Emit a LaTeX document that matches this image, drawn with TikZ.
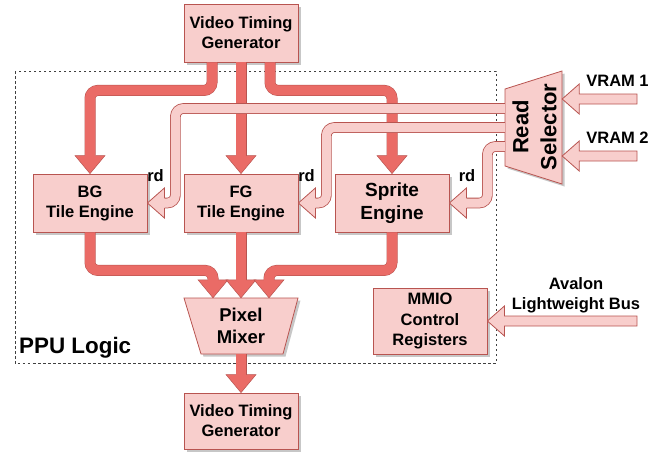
\documentclass[tikz,border=0pt]{standalone}
\usepackage{fontspec}
\setmainfont{Liberation Sans}
\usetikzlibrary{calc,shadows}

\definecolor{pinkfill}{HTML}{F8CECC}
\definecolor{redline}{HTML}{B85450}
\definecolor{darkred}{HTML}{EA6B66}

\newcommand\setfs[2]{\fontsize{#1}{#2}\selectfont\bfseries}

% down-pointing head of a thick data arrow, tip at #1
\newcommand\darkhead[1]{%
  \fill[darkred] (#1) -- ++(-15,-18) -- ++(30,0) -- cycle;
  \fill[darkred] ($(#1)+(-5,-18.6)$) rectangle ($(#1)+(5,-17)$);
  \draw[redline, line width=0.5pt, line join=miter]
    ($(#1)+(-5.25,-18)$) -- ++(-9.75,0) -- (#1) -- ++(15,-18) -- ++(-9.75,0);}

% left-pointing head of an outlined read arrow, tip at #1
\newcommand\pinkhead[1]{%
  \fill[pinkfill] (#1) -- ++(17,-15) -- ++(0,30) -- cycle;
  \fill[pinkfill] ($(#1)+(16.4,-4.5)$) rectangle ($(#1)+(18,4.5)$);
  \draw[redline, line width=0.8pt, line join=miter]
    ($(#1)+(17,-4.9)$) -- ++(0,-10.1) -- (#1) -- ++(17,15) -- ++(0,-10.1);}

% straight outlined arrow from tail #2 to tip #1 (pointing left)
\newcommand\pinkstraight[2]{%
  \draw[pinkbody] (#1) -- ($(#1)+(17,-15)$) -- ($(#1)+(17,-5)$)
    -- ($(#2)+(0,-5)$) -- ($(#2)+(0,5)$) -- ($(#1)+(17,5)$)
    -- ($(#1)+(17,15)$) -- cycle;}

\tikzset{
  boxshadow/.style={drop shadow={shadow xshift=2.5pt, shadow yshift=-2.5pt,
      fill=black, opacity=0.22}},
  block/.style={draw=redline, fill=pinkfill, line width=0.8pt, inner sep=0pt,
      align=center, minimum width=114pt, minimum height=58pt, boxshadow,
      font=\setfs{16.5}{20}},
  shapebody/.style={draw=redline, fill=pinkfill, line width=0.8pt,
      line join=miter, boxshadow},
  holder/.style={inner sep=0pt, align=center},
  darkshaft/.style={draw=redline, line width=0.5pt, double=darkred,
      double distance=10pt, rounded corners=8pt},
  pinkshaft/.style={draw=redline, line width=0.8pt, double=pinkfill,
      double distance=9pt, rounded corners=8pt},
  pinkbody/.style={draw=redline, fill=pinkfill, line width=0.8pt,
      line join=miter},
  tag/.style={font=\setfs{16.5}{20}, inner sep=0pt, anchor=base},
}

\begin{document}
\begin{tikzpicture}[x=1pt, y=-1pt]
\useasboundingbox (0,0) rectangle (662,451);

% PPU logic region
\draw[black!75, line width=0.7pt, dash pattern=on 2.5pt off 2.5pt]
  (15,71) rectangle (496,363);
\node[tag, anchor=base west, font=\setfs{22.4}{26}] (ppulabel) at (19,353) {PPU Logic};

% blocks
\node[block] (vtg) at (241,33) {Video Timing\\Generator};
\node[block] (bg)  at (90,203)  {BG\\Tile Engine};
\node[block] (fg)  at (241,203) {FG\\Tile Engine};
\node[block, font=\setfs{19}{23}] (spr) at (392,203) {Sprite\\Engine};
\node[block, minimum height=66pt, font=\setfs{16.5}{20.5}] (mmio) at (430,321)
  {MMIO\\Control\\Registers};
\node[block, minimum height=56pt] (vtg2) at (241,421) {Video Timing\\Generator};

% pixel mixer (trapezoid, wide side on top)
\draw[shapebody] (184,298) -- (298,298) -- (283,354) -- (201,354) -- cycle;
\node[holder, minimum width=114pt, minimum height=56pt, font=\setfs{18.5}{22}]
  (mix) at (241,326) {Pixel\\Mixer};

% read selector (trapezoid, wide side on the right)
\draw[shapebody] (505,89) -- (562,71) -- (562,184) -- (505,166) -- cycle;
\node[holder, minimum width=57pt, minimum height=113pt] (rs) at (533.5,127.5) {};
\node[holder, rotate=90, font=\setfs{22}{28}] (rslabel) at (534.5,127) {Read\\Selector};

% timing fan-out
\draw[darkshaft] ($(vtg.south)+(-29,0)$) -- ++(0,28) -| ($(bg.north)+(0,-18)$);
\darkhead{bg.north}
\draw[darkshaft] (vtg.south) -- ($(fg.north)+(0,-18)$);
\darkhead{fg.north}
\draw[darkshaft] ($(vtg.south)+(29,0)$) -- ++(0,28) -| ($(spr.north)+(0,-18)$);
\darkhead{spr.north}

% layers into the mixer
\coordinate (mixl) at ($(mix.north)+(-28,0)$);
\coordinate (mixr) at ($(mix.north)+(28,0)$);
\draw[darkshaft] (bg.south) -- ++(0,38) -| ($(mixl)+(0,-18)$);
\darkhead{mixl}
\draw[darkshaft] (fg.south) -- ($(mix.north)+(0,-18)$);
\darkhead{mix.north}
\draw[darkshaft] (spr.south) -- ++(0,38) -| ($(mixr)+(0,-18)$);
\darkhead{mixr}

% mixer output
\draw[darkshaft] (mix.south) -- ($(vtg2.north)+(0,-18)$);
\darkhead{vtg2.north}

% read paths from the selector
\draw[pinkshaft] ($(rs.west)+(0,-19)$) -| ($(bg.east)+(28,0)$) -- ($(bg.east)+(17,0)$);
\pinkhead{bg.east}
\draw[pinkshaft] (rs.west) -| ($(fg.east)+(28,0)$) -- ($(fg.east)+(17,0)$);
\pinkhead{fg.east}
\draw[pinkshaft] ($(rs.west)+(0,19)$) -| ($(spr.east)+(38,0)$) -- ($(spr.east)+(17,0)$);
\pinkhead{spr.east}

% external inputs
\coordinate (v1) at (637,99);
\coordinate (v2) at (637,156);
\coordinate (av) at (637,321);
\coordinate (v1tip) at ($(rs.east)+(0,-28.5)$);
\coordinate (v2tip) at ($(rs.east)+(0,28.5)$);
\pinkstraight{v1tip}{v1}
\pinkstraight{v2tip}{v2}
\pinkstraight{mmio.east}{av}

% labels
\node[tag] (rd1) at (155.5,181) {rd};
\node[tag] (rd2) at (306.5,181) {rd};
\node[tag] (rd3) at (467,181) {rd};
\node[tag] (vram1) at (617.5,86) {VRAM 1};
\node[tag] (vram2) at (617.5,143) {VRAM 2};
\node[holder, font=\setfs{16.5}{20}] (avalon) at (576,295) {Avalon\\Lightweight Bus};
\end{tikzpicture}
\end{document}
